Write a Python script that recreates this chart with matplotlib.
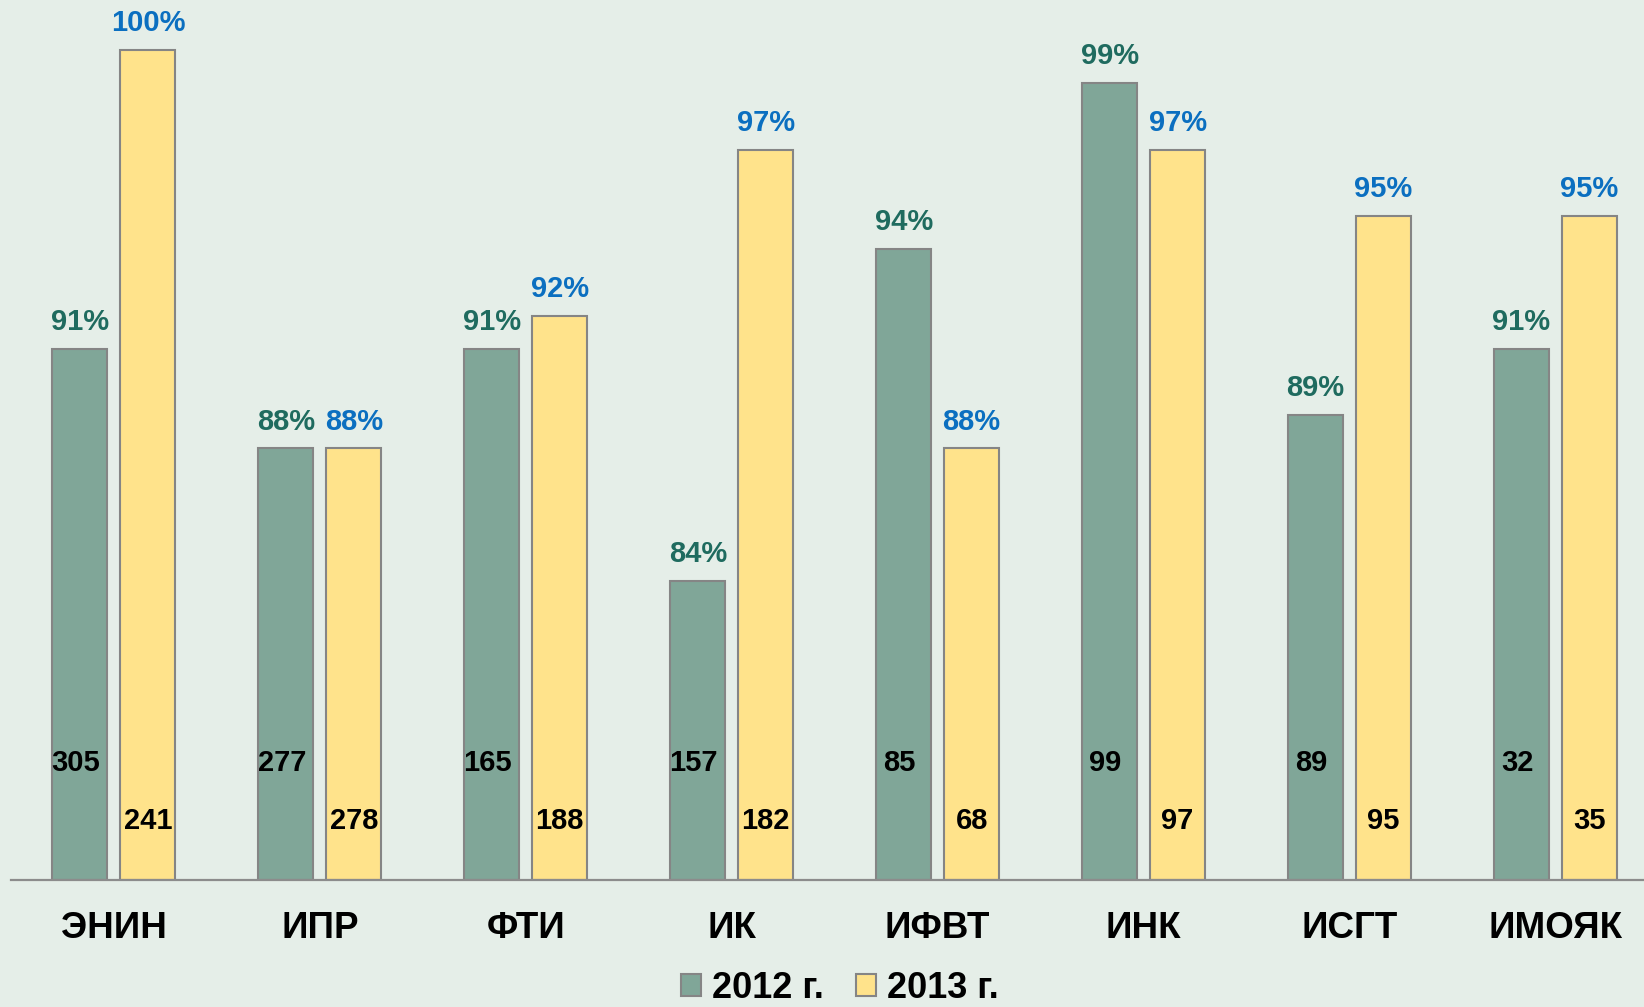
import matplotlib.pyplot as plt
import numpy as np
from matplotlib.patches import Patch

plt.rcParams['font.family'] = ['Liberation Sans', 'DejaVu Sans']
plt.rcParams['font.weight'] = 'bold'

# data
categories = ["ЭНИН", "ИПР", "ФТИ", "ИК", "ИФВТ", "ИНК", "ИСГТ", "ИМОЯК"]
pct_2012 = [91, 88, 91, 84, 94, 99, 89, 91]
pct_2013 = [100, 88, 92, 97, 88, 97, 95, 95]
cnt_2012 = [305, 277, 165, 157, 85, 99, 89, 32]
cnt_2013 = [241, 278, 188, 182, 68, 97, 95, 35]
series = ["2012 г.", "2013 г."]

bg = '#E5EEE8'
green = '#80A698'
yellow = '#FFE38B'
edge = '#858585'
teal_txt = '#1F6B5F'
blue_txt = '#0B6FC0'

W, H = 1644, 1007
fig = plt.figure(figsize=(W / 100, H / 100), dpi=100, facecolor=bg)
ax = fig.add_axes([11 / W, 127 / H, (W - 11) / W, 880 / H])
ax.set_facecolor(bg)

ymin = 75
ax.set_ylim(ymin, ymin + 880 / 33.2)
ax.set_xlim(-0.5, 7.43)

idx = np.arange(len(categories))
bw = 0.267
off = 0.165

b1 = ax.bar(idx - off, np.array(pct_2012) - ymin, bw, bottom=ymin,
            color=green, edgecolor=edge, linewidth=1.5, zorder=2)
b2 = ax.bar(idx + off, np.array(pct_2013) - ymin, bw, bottom=ymin,
            color=yellow, edgecolor=edge, linewidth=1.5, zorder=2)

# percent labels above bars
for x, v in zip(idx - off, pct_2012):
    ax.annotate(f"{v}%", (x, v), xytext=(0, 13.5), textcoords='offset points',
                ha='center', va='baseline', fontsize=21, color=teal_txt,
                fontweight='bold')
for x, v in zip(idx + off, pct_2013):
    ax.annotate(f"{v}%", (x, v), xytext=(0, 13.5), textcoords='offset points',
                ha='center', va='baseline', fontsize=21, color=blue_txt,
                fontweight='bold')

# counts inside the bars
for x, c in zip(idx - off, cnt_2012):
    ax.annotate(str(c), (x, ymin), xytext=(-3, 84.3), textcoords='offset points',
                ha='center', va='center', fontsize=21, color='black',
                fontweight='bold')
for x, c in zip(idx + off, cnt_2013):
    ax.annotate(str(c), (x, ymin), xytext=(0, 42.5), textcoords='offset points',
                ha='center', va='center', fontsize=21, color='black',
                fontweight='bold')

ax.set_xticks(idx)
ax.set_xticklabels(categories, fontsize=26.5, fontweight='bold')
ax.tick_params(axis='x', length=0, pad=22)
ax.set_yticks([])

for s in ['top', 'right', 'left']:
    ax.spines[s].set_visible(False)
ax.spines['bottom'].set_color('#8C8C8C')
ax.spines['bottom'].set_linewidth(1.6)

handles = [Patch(facecolor=green, edgecolor=edge, linewidth=1.5),
           Patch(facecolor=yellow, edgecolor=edge, linewidth=1.5)]
fig.legend(handles, series, loc='center', bbox_to_anchor=(840 / W, 19 / H),
           ncol=2, frameon=False, prop={'size': 26, 'weight': 'bold'},
           handlelength=0.55, handleheight=0.55, handletextpad=0.3,
           columnspacing=0.9, borderpad=0)

fig.savefig('out.png', dpi=100, facecolor=bg)
